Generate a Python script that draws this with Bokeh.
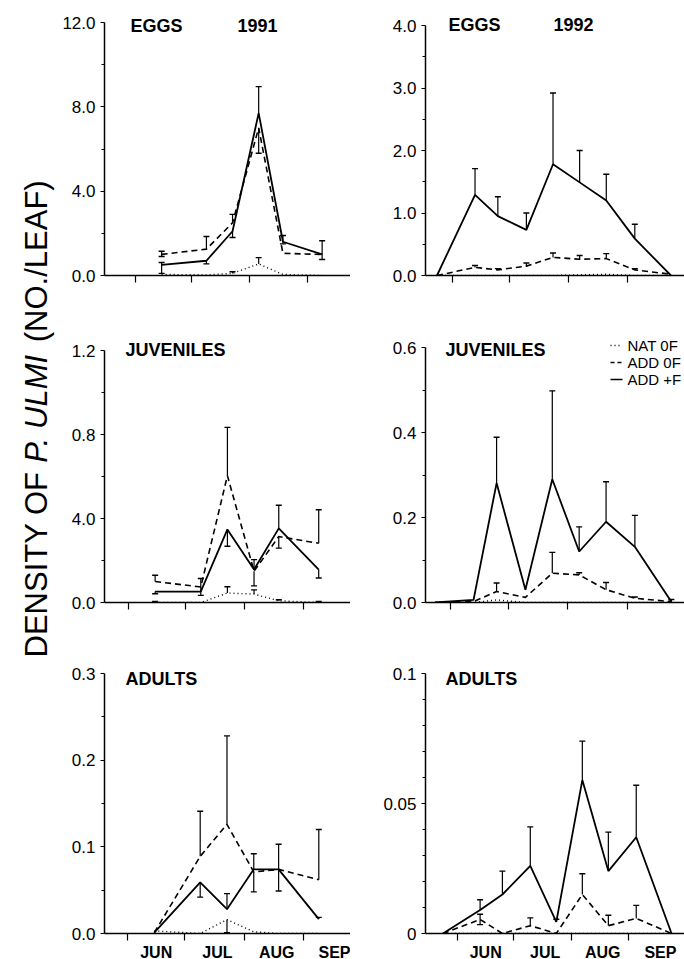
import math
from bokeh.plotting import figure
from bokeh.models import Range1d, FixedTicker
from bokeh.layouts import row, column
from bokeh.embed import file_html
from bokeh.resources import INLINE
from bokeh.core.properties import value

FONT = "Liberation Sans"

# ---------------- data ----------------
# sampling dates, days after 1 June
DAYS_1991 = [14, 38, 52, 66, 79, 100]
DAYS_1992 = [-8, 12, 24, 39, 53, 67, 81, 96, 115]

MONTHS = ["JUN", "JUL", "AUG", "SEP"]
MONTH_STARTS = [0, 30, 61, 92]
MONTH_MIDS = [15, 47, 78, 109]

SERIES_NAMES = ["NAT 0F", "ADD 0F", "ADD +F"]

# EGGS 1991
EGGS91_NAT = [0.05, 0.03, 0.10, 0.55, 0.05, 0.0]
EGGS91_NAT_UP = [0, 0, 0.08, 0.30, 0, 0]
EGGS91_NAT_DN = [0, 0, 0, 0, 0, 0]
EGGS91_ADD0 = [1.0, 1.25, 2.5, 7.0, 1.05, 1.0]
EGGS91_ADD0_UP = [0.15, 0.6, 0.4, 0, 0, 0]
EGGS91_ADD0_DN = [0.1, 0, 0, 1.2, 0, 0]
EGGS91_ADDF = [0.5, 0.7, 2.1, 7.7, 1.6, 1.0]
EGGS91_ADDF_UP = [0.12, 0, 0, 1.26, 0.3, 0.65]
EGGS91_ADDF_DN = [0.4, 0.15, 0.3, 0, 0.1, 0.24]

# EGGS 1992
EGGS92_NAT = [0, 0, 0, 0, 0, 0.01, 0.02, 0, 0]
EGGS92_NAT_UP = [0, 0, 0, 0, 0, 0, 0, 0, 0]
EGGS92_NAT_DN = [0, 0, 0, 0, 0, 0, 0, 0, 0]
EGGS92_ADD0 = [0, 0.13, 0.09, 0.15, 0.29, 0.26, 0.27, 0.09, 0.02]
EGGS92_ADD0_UP = [0, 0.03, 0.02, 0.05, 0.07, 0.06, 0.08, 0.02, 0]
EGGS92_ADD0_DN = [0, 0, 0, 0, 0, 0, 0, 0, 0]
EGGS92_ADDF = [0, 1.29, 0.95, 0.73, 1.78, 1.49, 1.2, 0.59, 0]
EGGS92_ADDF_UP = [0, 0.42, 0.31, 0.27, 1.14, 0.51, 0.42, 0.23, 0]
EGGS92_ADDF_DN = [0, 0, 0, 0, 0, 0, 0, 0, 0]

# JUVENILES 1991
JUV91_NAT = [0.0, 0.0, 0.045, 0.04, 0.008, 0.0]
JUV91_NAT_UP = [0.005, 0, 0.03, 0.02, 0.005, 0.005]
JUV91_NAT_DN = [0, 0, 0, 0, 0, 0]
JUV91_ADD0 = [0.10, 0.074, 0.604, 0.149, 0.314, 0.282]
JUV91_ADD0_UP = [0.03, 0.04, 0.23, 0, 0, 0.16]
JUV91_ADD0_DN = [0, 0.04, 0, 0.07, 0.055, 0]
JUV91_ADDF = [0.052, 0.052, 0.348, 0.157, 0.353, 0.157]
JUV91_ADDF_UP = [0, 0, 0, 0.047, 0.11, 0]
JUV91_ADDF_DN = [0.01, 0, 0.08, 0, 0, 0.04]

# JUVENILES 1992
JUV92_NAT = [0, 0, 0.006, 0, 0, 0, 0, 0, 0]
JUV92_NAT_UP = [0, 0, 0, 0, 0, 0, 0, 0, 0]
JUV92_NAT_DN = [0, 0, 0, 0, 0, 0, 0, 0, 0]
JUV92_ADD0 = [0, 0.002, 0.026, 0.012, 0.069, 0.065, 0.03, 0.01, 0.002]
JUV92_ADD0_UP = [0, 0, 0.02, 0, 0.049, 0.005, 0.017, 0.003, 0]
JUV92_ADD0_DN = [0, 0, 0, 0, 0, 0, 0, 0, 0]
JUV92_ADDF = [0, 0.006, 0.281, 0.03, 0.29, 0.12, 0.19, 0.131, 0.002]
JUV92_ADDF_UP = [0, 0, 0.108, 0, 0.208, 0.058, 0.094, 0.074, 0.005]
JUV92_ADDF_DN = [0, 0, 0, 0, 0, 0, 0, 0, 0]

# ADULTS 1991
ADU91_NAT = [0.003, 0.0, 0.016, 0.002, 0.0, 0.0]
ADU91_NAT_UP = [0, 0, 0, 0, 0, 0]
ADU91_NAT_DN = [0, 0, 0.015, 0, 0, 0]
ADU91_ADD0 = [0.001, 0.089, 0.126, 0.071, 0.074, 0.062]
ADU91_ADD0_UP = [0, 0.052, 0.102, 0, 0, 0.058]
ADU91_ADD0_DN = [0, 0, 0, 0.023, 0, 0]
ADU91_ADDF = [0.001, 0.059, 0.028, 0.074, 0.074, 0.0166]
ADU91_ADDF_UP = [0, 0, 0.018, 0.018, 0.029, 0.002]
ADU91_ADDF_DN = [0, 0.017, 0, 0, 0.025, 0]

# ADULTS 1992
ADU92_NAT = [0, 0, 0, 0, 0, 0, 0, 0, 0]
ADU92_NAT_UP = [0, 0, 0, 0, 0, 0, 0, 0, 0]
ADU92_NAT_DN = [0, 0, 0, 0, 0, 0, 0, 0, 0]
ADU92_ADD0 = [0, 0.0054, 0.0, 0.003, 0.0, 0.015, 0.003, 0.0058, 0]
ADU92_ADD0_UP = [0, 0.002, 0, 0.003, 0, 0.008, 0.004, 0.005, 0]
ADU92_ADD0_DN = [0, 0.002, 0, 0, 0, 0, 0, 0, 0]
ADU92_ADDF = [0, 0.009, 0.015, 0.026, 0.0045, 0.059, 0.024, 0.037, 0]
ADU92_ADDF_UP = [0, 0.004, 0.009, 0.015, 0.001, 0.015, 0.015, 0.020, 0]
ADU92_ADDF_DN = [0, 0, 0, 0, 0, 0, 0, 0, 0]

# y-axis ticks and labels (as printed, including the "4.0" of the juvenile panel)
EGGS91_YTICKS = [0, 4, 8, 12]
EGGS91_YMINOR = [2, 6, 10]
EGGS91_YLABELS = ["0.0", "4.0", "8.0", "12.0"]
EGGS92_YTICKS = [0, 1, 2, 3, 4]
EGGS92_YMINOR = [0.5, 1.5, 2.5, 3.5]
EGGS92_YLABELS = ["0.0", "1.0", "2.0", "3.0", "4.0"]
JUV91_YTICKS = [0, 0.4, 0.8, 1.2]
JUV91_YMINOR = [0.2, 0.6, 1.0]
JUV91_YLABELS = ["0.0", "4.0", "0.8", "1.2"]
JUV92_YTICKS = [0, 0.2, 0.4, 0.6]
JUV92_YMINOR = [0.1, 0.3, 0.5]
JUV92_YLABELS = ["0.0", "0.2", "0.4", "0.6"]
ADU91_YTICKS = [0, 0.1, 0.2, 0.3]
ADU91_YMINOR = [0.05, 0.15, 0.25]
ADU91_YLABELS = ["0.0", "0.1", "0.2", "0.3"]
ADU92_YTICKS = [0, 0.05, 0.1]
ADU92_YMINOR = [0.01, 0.02, 0.03, 0.04, 0.06, 0.07, 0.08, 0.09]
ADU92_YLABELS = ["0", "0.05", "0.1"]

YLABEL_PARTS = ["DENSITY OF", "P. ULMI", "(NO./LEAF)"]
YLABEL_STYLES = ["normal", "italic", "normal"]

# ---------------- layout geometry (pixels) ----------------
LABEL_W = 56
# shared frame edges per column / row (layouts align frames)
COLS = {"L": dict(x=LABEL_W, left=104, right=350),
        "R": dict(x=350, left=425, right=684)}
ROWS = {1: dict(y=0, h=300, top=8, bottom=275),
        2: dict(y=300, h=340, top=333, bottom=602),
        3: dict(y=640, h=319, top=659, bottom=933)}


def draw_err(p, days, vals, up, dn):
    xs, y0, y1, cx, cy = [], [], [], [], []
    for d, v, u, l in zip(days, vals, up, dn):
        if u <= 0 and l <= 0:
            continue
        xs.append(d)
        y0.append(v - l)
        y1.append(v + u)
        if u > 0:
            cx.append(d); cy.append(v + u)
        if l > 0:
            cx.append(d); cy.append(v - l)
    if xs:
        p.segment(xs, y0, xs, y1, line_color="black", line_width=1.2)
        p.scatter(cx, cy, marker="dash", size=6, line_color="black", line_width=1.4)


def panel(g, days, series, ymax, yticks, yminor, ylabels, title,
          year=None, months=False, legend=False):
    c = COLS[g["col"]]
    r = ROWS[g["row"]]
    ppd = (g["d92"] - g["d0"]) / 92.0
    x0 = -(g["d0"] - c["left"]) / ppd
    x1 = (c["right"] - g["d0"]) / ppd
    ppu = (r["bottom"] - g["top"]) / ymax
    y1 = ymax + (g["top"] - r["top"]) / ppu
    p = figure(frame_width=c["right"] - c["left"],
               frame_height=r["bottom"] - r["top"],
               min_border_left=c["left"] - c["x"],
               min_border_right=0,
               min_border_top=r["top"] - r["y"],
               min_border_bottom=r["y"] + r["h"] - r["bottom"],
               x_range=Range1d(x0, x1), y_range=Range1d(0, y1),
               toolbar_location=None, output_backend="svg")
    p.outline_line_color = None
    p.grid.visible = False
    p.background_fill_color = "white"
    p.border_fill_color = "white"

    def px2x(px):
        return x0 + (px - c["left"]) / ppd

    def py2y(py):
        return (r["bottom"] - py) / ppu

    # y axis
    ya = p.yaxis[0]
    ya.ticker = FixedTicker(ticks=yticks, minor_ticks=yminor)
    ya.major_label_overrides = {t: l for t, l in zip(yticks, ylabels)}
    ya.bounds = (0, ymax)
    ya.axis_line_width = 1.5
    ya.major_tick_out = 4
    ya.major_tick_in = 0
    ya.minor_tick_out = 3
    ya.minor_tick_in = 0
    ya.major_tick_line_width = 1.2
    ya.minor_tick_line_width = 1.0
    ya.major_label_standoff = 5
    ya.major_label_text_font = FONT
    ya.major_label_text_font_size = "17px"
    ya.major_label_text_color = "black"

    # x axis
    xa = p.xaxis[0]
    xa.ticker = FixedTicker(ticks=MONTH_MIDS if months else [], minor_ticks=MONTH_STARTS)
    if months:
        xa.major_label_overrides = {t: m for t, m in zip(MONTH_MIDS, MONTHS)}
    xa.axis_line_width = 1.5
    xa.major_tick_out = 0
    xa.major_tick_in = 0
    xa.minor_tick_out = 7
    xa.minor_tick_in = 0
    xa.minor_tick_line_width = 1.2
    xa.major_label_standoff = 3
    xa.major_label_text_font = FONT
    xa.major_label_text_font_size = "16px"
    xa.major_label_text_font_style = "bold"
    xa.major_label_text_color = "black"

    nat, nat_up, nat_dn, add0, add0_up, add0_dn, addf, addf_up, addf_dn = series
    p.line(days, nat, line_color="black", line_width=1.4, line_dash="1 3")
    p.line(days, add0, line_color="black", line_width=1.6, line_dash="6 4")
    p.line(days, addf, line_color="black", line_width=1.8)
    draw_err(p, days, nat, nat_up, nat_dn)
    draw_err(p, days, add0, add0_up, add0_dn)
    draw_err(p, days, addf, addf_up, addf_dn)

    tx, ty = g["title"]
    p.text(x=[px2x(tx)], y=[py2y(ty)], text=[title], text_font=value(FONT),
           text_font_size="18px", text_font_style="bold", text_color="black",
           text_baseline="middle", text_align="left")
    if year is not None:
        yx, yy = g["year"]
        p.text(x=[px2x(yx)], y=[py2y(yy)], text=[year], text_font=value(FONT),
               text_font_size="18px", text_font_style="bold", text_color="black",
               text_baseline="middle", text_align="left")
    if legend:
        dashes = ["1 3", "4 3", None]
        for i, (name, dash) in enumerate(zip(SERIES_NAMES, dashes)):
            py = 345 + 17 * i
            kw = dict(line_color="black", line_width=1.6)
            if dash:
                kw["line_dash"] = dash
            p.segment([px2x(610)], [py2y(py)], [px2x(622)], [py2y(py)], **kw)
            p.text(x=[px2x(627)], y=[py2y(py)], text=[name], text_font=value(FONT),
                   text_font_size="15px", text_color="black",
                   text_baseline="middle", text_align="left")
    return p


G_TL = dict(col="L", row=1, top=22, d0=135, d92=306.7, title=(130, 25), year=(237, 25))
G_TR = dict(col="R", row=1, top=25, d0=451.7, d92=626.7, title=(448, 24), year=(553, 24))
G_ML = dict(col="L", row=2, top=350, d0=128, d92=303, title=(125, 349))
G_MR = dict(col="R", row=2, top=347, d0=450, d92=626.7, title=(445, 349))
G_BL = dict(col="L", row=3, top=673, d0=127, d92=303, title=(125, 678))
G_BR = dict(col="R", row=3, top=673, d0=457.3, d92=628.3, title=(445, 678))

p_tl = panel(G_TL, DAYS_1991,
             (EGGS91_NAT, EGGS91_NAT_UP, EGGS91_NAT_DN, EGGS91_ADD0, EGGS91_ADD0_UP,
              EGGS91_ADD0_DN, EGGS91_ADDF, EGGS91_ADDF_UP, EGGS91_ADDF_DN),
             12, EGGS91_YTICKS, EGGS91_YMINOR, EGGS91_YLABELS, "EGGS", year="1991")
p_tr = panel(G_TR, DAYS_1992,
             (EGGS92_NAT, EGGS92_NAT_UP, EGGS92_NAT_DN, EGGS92_ADD0, EGGS92_ADD0_UP,
              EGGS92_ADD0_DN, EGGS92_ADDF, EGGS92_ADDF_UP, EGGS92_ADDF_DN),
             4, EGGS92_YTICKS, EGGS92_YMINOR, EGGS92_YLABELS, "EGGS", year="1992")
p_ml = panel(G_ML, DAYS_1991,
             (JUV91_NAT, JUV91_NAT_UP, JUV91_NAT_DN, JUV91_ADD0, JUV91_ADD0_UP,
              JUV91_ADD0_DN, JUV91_ADDF, JUV91_ADDF_UP, JUV91_ADDF_DN),
             1.2, JUV91_YTICKS, JUV91_YMINOR, JUV91_YLABELS, "JUVENILES")
p_mr = panel(G_MR, DAYS_1992,
             (JUV92_NAT, JUV92_NAT_UP, JUV92_NAT_DN, JUV92_ADD0, JUV92_ADD0_UP,
              JUV92_ADD0_DN, JUV92_ADDF, JUV92_ADDF_UP, JUV92_ADDF_DN),
             0.6, JUV92_YTICKS, JUV92_YMINOR, JUV92_YLABELS, "JUVENILES", legend=True)
p_bl = panel(G_BL, DAYS_1991,
             (ADU91_NAT, ADU91_NAT_UP, ADU91_NAT_DN, ADU91_ADD0, ADU91_ADD0_UP,
              ADU91_ADD0_DN, ADU91_ADDF, ADU91_ADDF_UP, ADU91_ADDF_DN),
             0.3, ADU91_YTICKS, ADU91_YMINOR, ADU91_YLABELS, "ADULTS", months=True)
p_br = panel(G_BR, DAYS_1992,
             (ADU92_NAT, ADU92_NAT_UP, ADU92_NAT_DN, ADU92_ADD0, ADU92_ADD0_UP,
              ADU92_ADD0_DN, ADU92_ADDF, ADU92_ADDF_UP, ADU92_ADDF_DN),
             0.1, ADU92_YTICKS, ADU92_YMINOR, ADU92_YLABELS, "ADULTS", months=True)

# shared y-axis title, set piece by piece (the species name in italics)
lab = figure(width=LABEL_W, height=959, x_range=Range1d(0, LABEL_W), y_range=Range1d(0, 959),
             x_axis_type=None, y_axis_type=None, toolbar_location=None,
             output_backend="svg", min_border=0)
lab.outline_line_color = None
lab.grid.visible = False
YFS = 31
YLABEL_START = [657, 657 - 6.279 * YFS, 657 - (6.279 + 3.612 + 0.278) * YFS]
for part, style, sy in zip(YLABEL_PARTS, YLABEL_STYLES, YLABEL_START):
    lab.text(x=[36], y=[959 - sy], text=[part], angle=math.pi / 2,
             text_font=value(FONT), text_font_size=f"{YFS}px", text_font_style=style,
             text_color="black", text_baseline="alphabetic", text_align="left")

layout = row(lab, column(p_tl, p_ml, p_bl), column(p_tr, p_mr, p_br))

html = file_html(layout, INLINE)
html = html.replace("<head>", "<head><style>html,body{margin:0;padding:0;}</style>", 1)
open("out.html", "w").write(html)
